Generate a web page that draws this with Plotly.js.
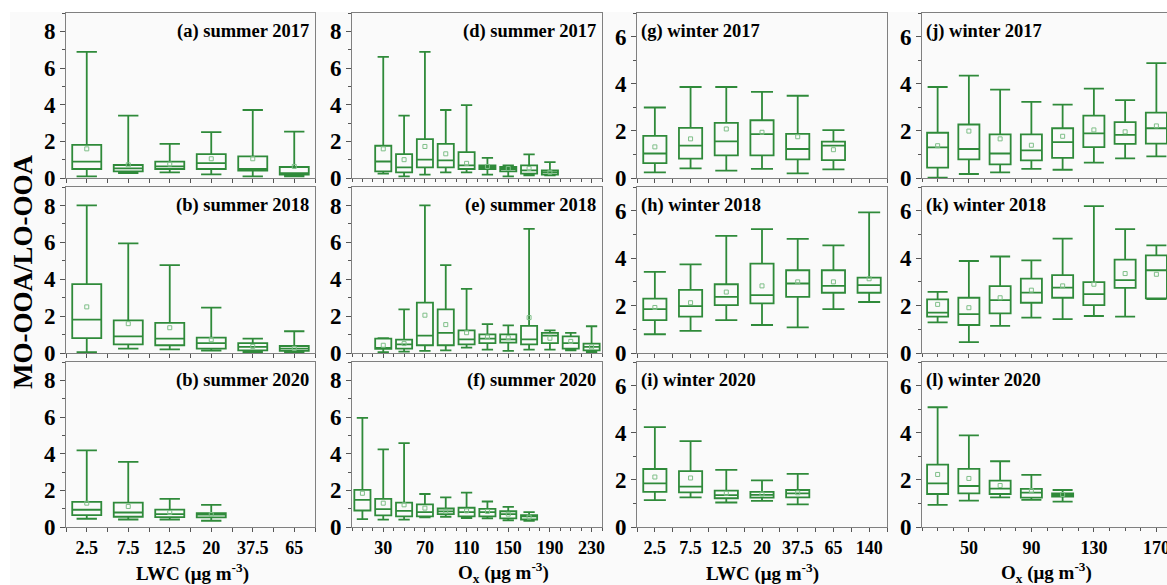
<!DOCTYPE html>
<html>
<head>
<meta charset="utf-8">
<script src="https://cdn.plot.ly/plotly-3.0.1.min.js"></script>
<style>
html, body { margin: 0; padding: 0; overflow: hidden; background: #ffffff; }
#chart { width: 1180px; height: 585px; }
</style>
</head>
<body>
<div id="chart"></div>
<script>
// ---------- categories / tick labels ----------
const lwcSummerCats = ["2.5", "7.5", "12.5", "20", "37.5", "65"];
const lwcWinterCats = ["2.5", "7.5", "12.5", "20", "37.5", "65", "140"];

// ---------- (a) summer 2017, LWC ----------
const a_x    = ["2.5", "7.5", "12.5", "20", "37.5", "65"];
const a_low  = [0.09, 0.27, 0.31, 0.20, 0.09, 0.09];
const a_q1   = [0.49, 0.36, 0.49, 0.49, 0.40, 0.18];
const a_med  = [0.89, 0.52, 0.63, 0.81, 0.49, 0.27];
const a_q3   = [1.81, 0.71, 0.89, 1.30, 1.18, 0.60];
const a_up   = [6.88, 3.40, 1.86, 2.50, 3.71, 2.53];
const a_mean = [1.59, 0.72, 0.76, 1.05, 1.05, 0.63];

// ---------- (b) summer 2018, LWC ----------
const b_x    = ["2.5", "7.5", "12.5", "20", "37.5", "65"];
const b_low  = [0.05, 0.24, 0.20, 0.13, 0.04, 0.04];
const b_q1   = [0.81, 0.47, 0.42, 0.24, 0.14, 0.11];
const b_med  = [1.81, 0.90, 0.78, 0.54, 0.33, 0.24];
const b_q3   = [3.73, 1.77, 1.63, 0.83, 0.54, 0.38];
const b_up   = [8.00, 5.94, 4.76, 2.46, 0.78, 1.18];
const b_mean = [2.50, 1.59, 1.37, 0.72, 0.36, 0.25];

// ---------- (b) summer 2020, LWC ----------
const c_x    = ["2.5", "7.5", "12.5", "20"];
const c_low  = [0.45, 0.41, 0.41, 0.34];
const c_q1   = [0.65, 0.56, 0.54, 0.52];
const c_med  = [0.94, 0.79, 0.70, 0.67];
const c_q3   = [1.37, 1.33, 0.95, 0.76];
const c_up   = [4.18, 3.55, 1.53, 1.21];
const c_mean = [1.30, 1.12, 0.79, 0.68];

// ---------- (d) summer 2017, Ox ----------
const d_x    = [30, 50, 70, 90, 110, 130, 150, 170, 190];
const d_low  = [0.24, 0.09, 0.18, 0.31, 0.31, 0.18, 0.09, 0.14, 0.14];
const d_q1   = [0.36, 0.31, 0.58, 0.58, 0.49, 0.49, 0.36, 0.24, 0.18];
const d_med  = [0.90, 0.58, 1.00, 0.96, 0.69, 0.60, 0.49, 0.42, 0.31];
const d_q3   = [1.76, 1.30, 2.12, 1.86, 1.41, 0.69, 0.60, 0.69, 0.42];
const d_up   = [6.61, 3.40, 6.88, 3.71, 3.98, 1.10, 0.69, 1.29, 0.87];
const d_mean = [1.59, 1.00, 1.72, 1.32, 0.80, 0.63, 0.52, 0.52, 0.31];

// ---------- (e) summer 2018, Ox ----------
const e_x    = [30, 50, 70, 90, 110, 130, 150, 170, 190, 210, 230];
const e_low  = [0.05, 0.07, 0.11, 0.14, 0.29, 0.18, 0.11, 0.18, 0.18, 0.14, 0.05];
const e_q1   = [0.22, 0.24, 0.42, 0.42, 0.47, 0.54, 0.56, 0.47, 0.54, 0.24, 0.14];
const e_med  = [0.27, 0.47, 0.94, 1.09, 0.74, 0.78, 0.74, 0.74, 0.94, 0.54, 0.33];
const e_q3   = [0.78, 0.72, 2.73, 2.37, 1.23, 1.01, 1.01, 1.47, 1.09, 0.90, 0.51];
const e_up   = [0.80, 2.37, 8.00, 4.76, 3.48, 1.57, 1.50, 6.73, 1.23, 1.09, 1.45];
const e_mean = [0.42, 0.51, 2.05, 1.54, 1.10, 0.87, 0.83, 1.92, 0.80, 0.63, 0.33];

// ---------- (f) summer 2020, Ox ----------
const f_x    = [10, 30, 50, 70, 90, 110, 130, 150, 170];
const f_low  = [0.43, 0.40, 0.40, 0.52, 0.56, 0.49, 0.47, 0.36, 0.34];
const f_q1   = [0.90, 0.63, 0.58, 0.58, 0.70, 0.58, 0.58, 0.47, 0.41];
const f_med  = [1.48, 0.97, 0.88, 0.81, 0.85, 0.81, 0.81, 0.70, 0.58];
const f_q3   = [2.02, 1.53, 1.33, 1.23, 1.01, 1.05, 0.99, 0.86, 0.65];
const f_up   = [5.95, 4.23, 4.58, 1.80, 1.62, 1.87, 1.39, 1.10, 0.81];
const f_mean = [1.84, 1.30, 1.21, 1.03, 0.86, 0.88, 0.85, 0.70, 0.54];

// ---------- (g) winter 2017, LWC ----------
const g_x    = ["2.5", "7.5", "12.5", "20", "37.5", "65"];
const g_low  = [0.24, 0.41, 0.31, 0.39, 0.20, 0.37];
const g_q1   = [0.63, 0.82, 0.96, 0.96, 0.79, 0.76];
const g_med  = [1.04, 1.37, 1.55, 1.86, 1.23, 1.37];
const g_q3   = [1.79, 2.13, 2.34, 2.45, 1.87, 1.54];
const g_up   = [2.99, 3.86, 3.86, 3.65, 3.49, 2.03];
const g_mean = [1.32, 1.66, 2.08, 1.94, 1.75, 1.20];

// ---------- (h) winter 2018, LWC ----------
const h_x    = ["2.5", "7.5", "12.5", "20", "37.5", "65", "140"];
const h_low  = [0.79, 0.93, 1.39, 1.18, 1.08, 1.85, 2.15];
const h_q1   = [1.39, 1.53, 2.02, 2.09, 2.37, 2.54, 2.54];
const h_med  = [1.85, 1.98, 2.37, 2.44, 2.93, 2.83, 2.86];
const h_q3   = [2.29, 2.66, 2.90, 3.77, 3.49, 3.49, 3.18];
const h_up   = [3.42, 3.74, 4.94, 5.22, 4.81, 4.54, 5.93];
const h_mean = [1.92, 2.12, 2.57, 2.83, 3.00, 3.00, 3.13];

// ---------- (i) winter 2020, LWC ----------
const i_x    = ["2.5", "7.5", "12.5", "20", "37.5"];
const i_low  = [1.14, 1.26, 1.04, 1.11, 0.96];
const i_q1   = [1.49, 1.47, 1.22, 1.25, 1.26];
const i_med  = [1.85, 1.71, 1.35, 1.36, 1.43];
const i_q3   = [2.46, 2.37, 1.54, 1.49, 1.57];
const i_up   = [4.24, 3.64, 2.42, 1.98, 2.25];
const i_mean = [2.12, 2.08, 1.43, 1.40, 1.45];

// ---------- (j) winter 2017, Ox ----------
const j_x    = [30, 50, 70, 90, 110, 130, 150, 170];
const j_low  = [0.01, 0.17, 0.24, 0.39, 0.35, 0.65, 0.83, 0.92];
const j_q1   = [0.44, 0.79, 0.58, 0.75, 0.85, 1.31, 1.45, 1.46];
const j_med  = [1.30, 1.23, 1.04, 1.17, 1.52, 1.89, 1.83, 2.11];
const j_q3   = [1.92, 2.27, 1.85, 1.85, 2.11, 2.65, 2.37, 2.77];
const j_up   = [3.86, 4.34, 3.75, 3.23, 3.11, 3.79, 3.30, 4.87];
const j_mean = [1.37, 1.99, 1.66, 1.39, 1.77, 2.04, 1.96, 2.21];

// ---------- (k) winter 2018, Ox ----------
const k_x    = [30, 50, 70, 90, 110, 130, 150, 170];
const k_low  = [1.29, 0.46, 1.14, 1.49, 1.43, 1.56, 1.53, 2.27];
const k_q1   = [1.53, 1.18, 1.67, 2.12, 2.33, 2.02, 2.75, 2.30];
const k_med  = [1.70, 1.64, 2.23, 2.55, 2.76, 2.48, 3.07, 3.49];
const k_q3   = [2.26, 2.33, 2.82, 3.14, 3.28, 2.99, 3.94, 4.12];
const k_up   = [2.58, 3.88, 4.07, 3.91, 4.82, 6.19, 5.22, 4.54];
const k_mean = [2.05, 1.91, 2.33, 2.65, 2.83, 2.90, 3.35, 3.32];

// ---------- (l) winter 2020, Ox ----------
const l_x    = [30, 50, 70, 90, 110];
const l_low  = [0.94, 1.12, 1.26, 1.15, 1.08];
const l_q1   = [1.40, 1.43, 1.40, 1.25, 1.29];
const l_med  = [1.85, 1.74, 1.63, 1.46, 1.36];
const l_q3   = [2.65, 2.47, 1.97, 1.62, 1.43];
const l_up   = [5.08, 3.89, 2.79, 2.21, 1.57];
const l_mean = [2.23, 2.06, 1.76, 1.54, 1.38];

const panelTitles = [
  "(a) summer 2017", "(d) summer 2017", "(g) winter 2017", "(j) winter 2017",
  "(b) summer 2018", "(e) summer 2018", "(h) winter 2018", "(k) winter 2018",
  "(b) summer 2020", "(f) summer 2020", "(i) winter 2020", "(l) winter 2020"
];

// ---------- styling ----------
const W = 1180, H = 585;
const FONT = '"Liberation Serif", "Times New Roman", serif';
const GREEN = '#2f8a3a';
const MEANC = '#7fbf88';
const colPx = [[66, 315], [352, 602], [637, 887], [922, 1172]];
const rowPx = [[13, 178], [187, 353], [362, 527]];

// panel data arranged [row][col]
const panels = [
  [[a_x, a_low, a_q1, a_med, a_q3, a_up, a_mean], [d_x, d_low, d_q1, d_med, d_q3, d_up, d_mean],
   [g_x, g_low, g_q1, g_med, g_q3, g_up, g_mean], [j_x, j_low, j_q1, j_med, j_q3, j_up, j_mean]],
  [[b_x, b_low, b_q1, b_med, b_q3, b_up, b_mean], [e_x, e_low, e_q1, e_med, e_q3, e_up, e_mean],
   [h_x, h_low, h_q1, h_med, h_q3, h_up, h_mean], [k_x, k_low, k_q1, k_med, k_q3, k_up, k_mean]],
  [[c_x, c_low, c_q1, c_med, c_q3, c_up, c_mean], [f_x, f_low, f_q1, f_med, f_q3, f_up, f_mean],
   [i_x, i_low, i_q1, i_med, i_q3, i_up, i_mean], [l_x, l_low, l_q1, l_med, l_q3, l_up, l_mean]]
];

const traces = [];
const layout = {
  width: W, height: H, autosize: false,
  margin: {l: 0, r: 0, t: 0, b: 0, pad: 0},
  paper_bgcolor: '#ffffff',
  plot_bgcolor: '#f9f9f9',
  showlegend: false,
  font: {family: FONT, color: '#000'},
  annotations: [],
  shapes: [{type: 'rect', xref: 'paper', yref: 'paper', x0: 10 / W, x1: 1, y0: 0, y1: 1 - 12 / H,
            fillcolor: '#fafafa', line: {width: 0}, layer: 'below'}]
};

const tickFontY = {family: FONT, size: 23, weight: 'bold', color: '#000'};
const tickFontX = {family: FONT, size: 18, weight: 'bold', color: '#000'};

for (let r = 0; r < 3; r++) {
  for (let c = 0; c < 4; c++) {
    const n = r * 4 + c + 1;
    const [xs, low, q1, med, q3, up, mean] = panels[r][c];
    const isLwc = (c === 0 || c === 2);
    const cats = c === 0 ? lwcSummerCats : lwcWinterCats;
    const xpos = isLwc ? xs.map(v => cats.indexOf(v)) : xs;
    let width;
    if (c === 0) width = 0.7;
    else if (c === 1) width = 15.5;
    else if (c === 2) width = 0.65;
    else width = 13.5;

    traces.push({
      type: 'box', x: xpos, q1: q1, median: med, q3: q3,
      lowerfence: low, upperfence: up,
      xaxis: 'x' + n, yaxis: 'y' + n,
      width: width, whiskerwidth: c < 2 ? 0.7 : 0.95,
      line: {color: GREEN, width: 1.8},
      fillcolor: 'rgba(0,0,0,0)',
      boxpoints: false, hoverinfo: 'skip', showlegend: false
    });
    traces.push({
      type: 'scatter', mode: 'markers', x: xpos, y: mean,
      xaxis: 'x' + n, yaxis: 'y' + n,
      marker: {symbol: 'square-open', size: 4, color: MEANC, line: {width: 1, color: MEANC}},
      hoverinfo: 'skip', showlegend: false
    });

    const xd = [colPx[c][0] / W, colPx[c][1] / W];
    const yd = [1 - rowPx[r][1] / H, 1 - rowPx[r][0] / H];
    const xa = {
      domain: xd, anchor: 'y' + n,
      showline: true, mirror: true, linecolor: '#808080', linewidth: 1,
      showgrid: false, zeroline: false,
      ticks: 'outside', ticklen: 4, tickwidth: 1, tickcolor: '#555',
      showticklabels: r === 2, tickfont: tickFontX, fixedrange: true
    };
    if (isLwc) {
      Object.assign(xa, {
        range: [-0.5, cats.length - 0.5], tickmode: 'array',
        tickvals: cats.map((v, i) => i), ticktext: cats,
        minor: {tickmode: 'linear', tick0: 0.5, dtick: 1, ticks: 'outside', ticklen: 4, tickcolor: '#555'}
      });
    } else if (c === 1) {
      Object.assign(xa, {
        range: [0, 240], tickmode: 'linear', tick0: 30, dtick: 40,
        minor: {tickmode: 'linear', tick0: 0, dtick: 10, ticks: 'outside', ticklen: 3, tickcolor: '#555'}
      });
    } else {
      Object.assign(xa, {
        range: [20, 180], tickmode: 'linear', tick0: 10, dtick: 40,
        minor: {tickmode: 'linear', tick0: 0, dtick: 10, ticks: 'outside', ticklen: 3, tickcolor: '#555'}
      });
    }
    const ya = {
      domain: yd, anchor: 'x' + n,
      range: c < 2 ? [0, 9] : [0, 7],
      tickmode: 'linear', tick0: 0, dtick: 2,
      minor: {tickmode: 'linear', tick0: 0, dtick: 1, ticks: 'outside', ticklen: 3, tickcolor: '#555'},
      showline: true, mirror: true, linecolor: '#808080', linewidth: 1,
      showgrid: false, zeroline: false,
      ticks: 'outside', ticklen: 5, tickwidth: 1, tickcolor: '#555',
      tickfont: tickFontY, fixedrange: true
    };
    layout['xaxis' + n] = xa;
    layout['yaxis' + n] = ya;

    layout.annotations.push({
      xref: 'x' + n + ' domain', yref: 'y' + n + ' domain',
      x: c < 2 ? 1 : 0, y: 1,
      xanchor: c < 2 ? 'right' : 'left', yanchor: 'top',
      xshift: c < 2 ? -4 : 2, yshift: -6,
      text: panelTitles[n - 1], showarrow: false,
      font: {family: FONT, size: 18.5, weight: 'bold', color: '#000'}
    });
  }
}

// axis titles
const xTitles = [
  {text: 'LWC (μg m<sup>-3</sup>)', px: 192},
  {text: 'O<sub>x</sub> (μg m<sup>-3</sup>)', px: 503},
  {text: 'LWC (μg m<sup>-3</sup>)', px: 762},
  {text: 'O<sub>x</sub> (μg m<sup>-3</sup>)', px: 1046}
];
xTitles.forEach(t => layout.annotations.push({
  xref: 'paper', yref: 'paper', x: t.px / W, y: 1 - 572 / H,
  xanchor: 'center', yanchor: 'middle', text: t.text, showarrow: false,
  font: {family: FONT, size: 19, weight: 'bold', color: '#000'}
}));
layout.annotations.push({
  xref: 'paper', yref: 'paper', x: 23 / W, y: 1 - 272 / H,
  xanchor: 'center', yanchor: 'middle', textangle: -90,
  text: 'MO-OOA/LO-OOA', showarrow: false,
  font: {family: FONT, size: 27, weight: 'bold', color: '#000'}
});

Plotly.newPlot('chart', traces, layout, {staticPlot: true, displayModeBar: false});
</script>
</body>
</html>
